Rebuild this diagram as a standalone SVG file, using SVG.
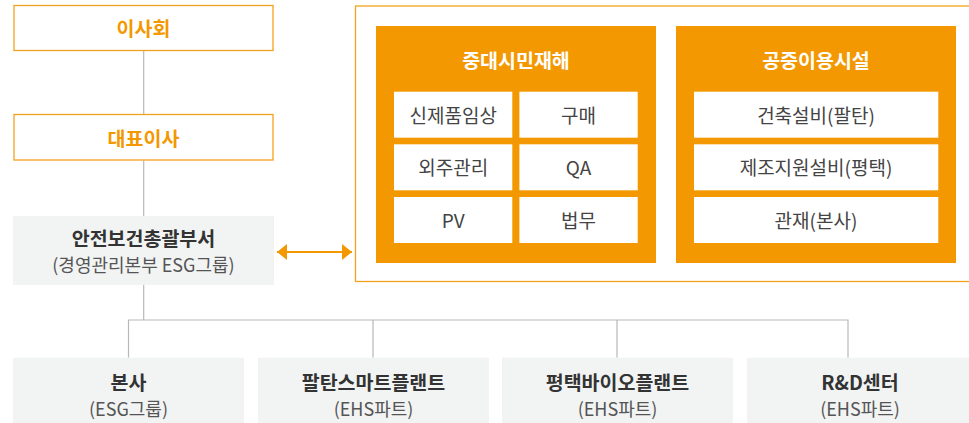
<svg xmlns="http://www.w3.org/2000/svg" width="969" height="423" viewBox="0 0 969 423">
<style>
text{font-family:"Noto Sans CJK KR","Noto Sans",sans-serif;text-anchor:middle;dominant-baseline:central}
.ob{fill:#fff;stroke:#f4a11d;stroke-width:1.3}
.ot{fill:#f39800;font-size:19.5px;font-weight:700}
.gb{fill:#f2f3f3}
.gt{fill:#333;font-size:19.5px;font-weight:700}
.gs{fill:#555;font-size:18px}
.panel{fill:#f39800}
.pt{fill:#fff;font-size:19.5px;font-weight:700}
.cell{fill:#fff}
.ct{fill:#444;font-size:19px}
.ln{stroke:#b8b8b8;stroke-width:1.2;fill:none}
</style>
<defs>
<marker id="ah" viewBox="0 0 10 16" refX="10" refY="8" markerWidth="10" markerHeight="16" markerUnits="userSpaceOnUse" orient="auto-start-reverse">
<path d="M0,0 L10,8 L0,16 Z" fill="#f39800"/>
</marker>
</defs>
<g id="connectors">
<line class="ln" x1="143.7" y1="50.5" x2="143.7" y2="114"/>
<line class="ln" x1="143.7" y1="160.5" x2="143.7" y2="216"/>
<line class="ln" x1="143.7" y1="285" x2="143.7" y2="320"/>
<polyline class="ln" points="128.5,357.7 128.5,320 848,320 848,357.7"/>
<line class="ln" x1="373" y1="320" x2="373" y2="357.7"/>
<line class="ln" x1="617" y1="320" x2="617" y2="357.7"/>
<line x1="277" y1="252" x2="352" y2="252" stroke="#f39800" stroke-width="2" marker-start="url(#ah)" marker-end="url(#ah)"/>
</g>
<g id="board">
<rect class="ob" x="14" y="5.5" width="259" height="45"/>
<text class="ot" x="143.5" y="27.5">이사회</text>
</g>
<g id="ceo">
<rect class="ob" x="14" y="114.5" width="259" height="45.5"/>
<text class="ot" x="143.5" y="137">대표이사</text>
</g>
<g id="safety-dept">
<rect class="gb" x="13" y="216" width="261" height="69"/>
<text class="gt" x="143.5" y="237">안전보건총괄부서</text>
<text class="gs" x="143.5" y="264">(경영관리본부 ESG그룹)</text>
</g>
<g id="scope">
<rect x="355.5" y="6" width="620" height="275.5" fill="none" stroke="#f4a11d" stroke-width="1.3"/>
</g>
<g id="civil-disaster">
<rect class="panel" x="376" y="26" width="280" height="237"/>
<text class="pt" x="516" y="59.5">중대시민재해</text>
<rect class="cell" x="394" y="91.7" width="118.3" height="46"/>
<text class="ct" x="453.2" y="114.2">신제품임상</text>
<rect class="cell" x="519.4" y="91.7" width="118.3" height="46"/>
<text class="ct" x="578.5" y="114.2">구매</text>
<rect class="cell" x="394" y="144.3" width="118.3" height="46"/>
<text class="ct" x="453.2" y="166.8">외주관리</text>
<rect class="cell" x="519.4" y="144.3" width="118.3" height="46"/>
<text class="ct" x="578.5" y="166.8">QA</text>
<rect class="cell" x="394" y="197" width="118.3" height="46"/>
<text class="ct" x="453.2" y="219.5">PV</text>
<rect class="cell" x="519.4" y="197" width="118.3" height="46"/>
<text class="ct" x="578.5" y="219.5">법무</text>
</g>
<g id="public-facility">
<rect class="panel" x="676" y="26" width="280" height="237"/>
<text class="pt" x="816" y="59.5">공중이용시설</text>
<rect class="cell" x="694" y="91.7" width="244.3" height="46"/>
<text class="ct" x="816" y="114.2">건축설비(팔탄)</text>
<rect class="cell" x="694" y="144.3" width="244.3" height="46"/>
<text class="ct" x="816" y="166.8">제조지원설비(평택)</text>
<rect class="cell" x="694" y="197" width="244.3" height="46"/>
<text class="ct" x="816" y="219.5">관재(본사)</text>
</g>
<g id="hq">
<rect class="gb" x="13" y="357.7" width="231" height="66"/>
<text class="gt" x="128.5" y="381">본사</text>
<text class="gs" x="128.5" y="407.5">(ESG그룹)</text>
</g>
<g id="paltan">
<rect class="gb" x="258" y="357.7" width="231" height="66"/>
<text class="gt" x="373.5" y="381">팔탄스마트플랜트</text>
<text class="gs" x="373.5" y="407.5">(EHS파트)</text>
</g>
<g id="pyeongtaek">
<rect class="gb" x="502" y="357.7" width="231" height="66"/>
<text class="gt" x="617.5" y="381">평택바이오플랜트</text>
<text class="gs" x="617.5" y="407.5">(EHS파트)</text>
</g>
<g id="rnd">
<rect class="gb" x="747" y="357.7" width="231" height="66"/>
<text class="gt" x="860" y="381">R&amp;D센터</text>
<text class="gs" x="860" y="407.5">(EHS파트)</text>
</g>
</svg>
